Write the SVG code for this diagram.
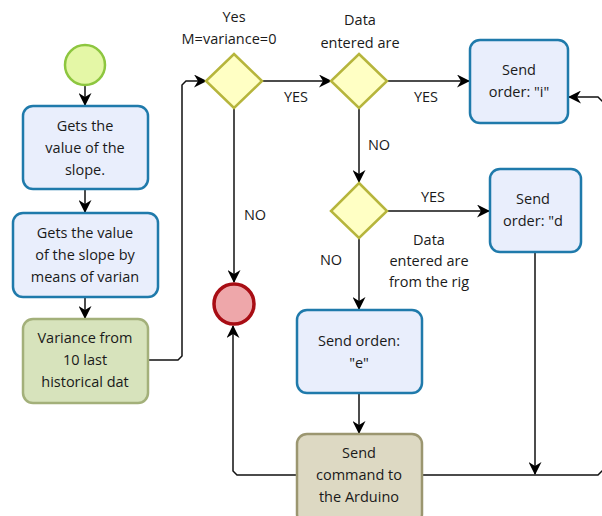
<svg xmlns="http://www.w3.org/2000/svg" width="602" height="516" viewBox="0 0 602 516">
<defs>
<marker id="ah" markerWidth="13" markerHeight="13" refX="12" refY="6.5" orient="auto" markerUnits="userSpaceOnUse">
<path d="M0,0 L13,6.5 L0,13 L4,6.5 Z" fill="#000"/>
</marker>
<style>
text{font-family:"Open Sans","DejaVu Sans",sans-serif;font-size:14.5px;fill:#1a1a1a;text-anchor:middle}
.task{fill:#e9eefc;stroke:#1f7aab;stroke-width:2.5}
.green{fill:#d7e3bc;stroke:#a3b07a;stroke-width:2.5}
.brown{fill:#ddd9c3;stroke:#9b9670;stroke-width:2.5}
.gw{fill:#ffffc4;stroke:#b6b53c;stroke-width:2.5}
.c{fill:none;stroke:#111;stroke-width:1.5}
</style>
</defs>
<rect width="602" height="516" fill="#fff"/>
<g id="connectors">
<path class="c" d="M85,86 V105" marker-end="url(#ah)"/>
<path class="c" d="M85,189 V212" marker-end="url(#ah)"/>
<path class="c" d="M85,297 V318" marker-end="url(#ah)"/>
<path class="c" d="M148,360 H178 L182,356 V85 L186,81 H206" marker-end="url(#ah)"/>
<path class="c" d="M262,81 H331" marker-end="url(#ah)"/>
<path class="c" d="M387,81 H469" marker-end="url(#ah)"/>
<path class="c" d="M234,108 V282" marker-end="url(#ah)"/>
<path class="c" d="M359,108 V182" marker-end="url(#ah)"/>
<path class="c" d="M387,211 H489" marker-end="url(#ah)"/>
<path class="c" d="M359,238 V309" marker-end="url(#ah)"/>
<path class="c" d="M359,393 V433" marker-end="url(#ah)"/>
<path class="c" d="M535,252 V474" marker-end="url(#ah)"/>
<path class="c" d="M297,475 H237 L233,471 V326" marker-end="url(#ah)"/>
<path class="c" d="M422,475 H598 L603,470 V102 L598,97 H569" marker-end="url(#ah)"/>
<text x="296" y="102">YES</text>
<text x="426" y="102">YES</text>
<text x="379" y="150">NO</text>
<text x="433" y="202">YES</text>
<text x="255" y="220">NO</text>
<text x="331" y="265">NO</text>
<text x="429" y="245">Data</text>
<text x="429" y="266">entered are</text>
<text x="429" y="287">from the rig</text>
</g>
<g id="start"><circle cx="85" cy="65" r="20" fill="#e4f7a6" stroke="#8dc63f" stroke-width="2.5"/></g>
<g id="end"><circle cx="234" cy="304" r="20" fill="#eea7aa" stroke="#a80d14" stroke-width="3.5"/></g>
<g id="box1"><rect class="task" x="23" y="106" width="125" height="83" rx="10"/>
<text x="85" y="131">Gets the</text><text x="85" y="153">value of the</text><text x="85" y="175">slope.</text></g>
<g id="box2"><rect class="task" x="13" y="213" width="145" height="84" rx="10"/>
<text x="85" y="238">Gets the value</text><text x="85" y="260">of the slope by</text><text x="85" y="282">means of varian</text></g>
<g id="box3"><rect class="green" x="23" y="319" width="125" height="84" rx="10"/>
<text x="85" y="343">Variance from</text><text x="85" y="365">10 last</text><text x="85" y="387">historical dat</text></g>
<g id="gw1"><path class="gw" d="M234,54 L262,81 L234,108 L206,81 Z"/>
<text x="234" y="22">Yes</text><text x="229" y="44">M=variance=0</text></g>
<g id="gw2"><path class="gw" d="M359,54 L387,81 L359,108 L331,81 Z"/>
<text x="360" y="25">Data</text><text x="360" y="48">entered are</text></g>
<g id="gw3"><path class="gw" d="M359,183 L387,211 L359,238 L331,211 Z"/></g>
<g id="boxI"><rect class="task" x="470" y="40" width="98" height="83" rx="10"/>
<text x="519" y="75">Send</text><text x="519" y="97">order: "i"</text></g>
<g id="boxD"><rect class="task" x="490" y="169" width="91" height="83" rx="10"/>
<text x="533" y="204">Send</text><text x="533" y="226">order: "d</text></g>
<g id="boxE"><rect class="task" x="297" y="310" width="125" height="83" rx="10"/>
<text x="359" y="346">Send orden:</text><text x="359" y="368">"e"</text></g>
<g id="arduino"><rect class="brown" x="297" y="434" width="125" height="90" rx="10"/>
<text x="359" y="458">Send</text><text x="359" y="480">command to</text><text x="359" y="502">the Arduino</text></g>
</svg>
